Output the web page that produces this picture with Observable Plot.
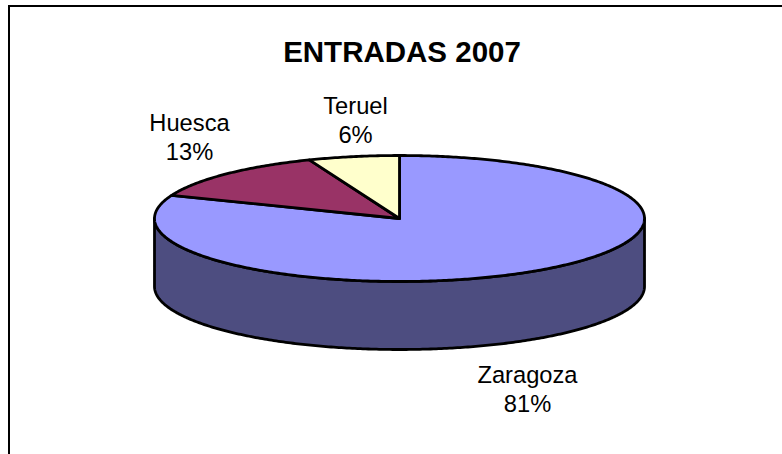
<!DOCTYPE html>
<html>
<head>
<meta charset="utf-8">
<style>html,body{margin:0;padding:0;background:#fff}svg{display:block}</style>
<script src="https://cdn.jsdelivr.net/npm/d3@7"></script>
<script src="https://cdn.jsdelivr.net/npm/@observablehq/plot@0.6"></script>
</head>
<body>
<script>
const categories = ["Zaragoza", "Huesca", "Teruel"];
const shares = [81, 13, 6];
const colors = ["#9999ff", "#993366", "#ffffcc"];
const sideColor = "#4d4d80";
const titleText = "ENTRADAS 2007";

const W = 782, H = 454;
const left = 154, right = 644, top_ = 155, bottom = 281, depth = 68;
const ry = (bottom - top_) / 2;
const font = "'Liberation Sans', Arial, sans-serif";

// unit-ellipse coordinates <-> pixels
const xInv = p => (p - left) / (right - left) * 2 - 1;
const yInv = p => (p - top_) / (bottom - top_) * 2 - 1;

// angle measured clockwise from 12 o'clock; y grows downward
const pt = a => ({x: Math.sin(a), y: -Math.cos(a)});
const total = d3.sum(shares);
let acc = 0;
const slices = categories.map((name, i) => {
  const a0 = acc / total * 2 * Math.PI;
  acc += shares[i];
  const a1 = acc / total * 2 * Math.PI;
  return {name, share: shares[i], color: colors[i], a0, a1};
});

const arcPts = (a0, a1) => {
  const n = Math.max(2, Math.ceil((a1 - a0) * 90));
  return d3.range(n + 1).map(k => pt(a0 + (a1 - a0) * k / n));
};

const slicePolys = slices.flatMap(s => {
  const c = {x: 0, y: 0};
  return [c, ...arcPts(s.a0, s.a1), c].map(p => ({...p, name: s.name, color: s.color}));
});

const dy = depth / ry;
const lower = arcPts(Math.PI / 2, 3 * Math.PI / 2);
const sidePoly = [...lower, ...lower.slice().reverse().map(p => ({x: p.x, y: p.y + dy})), lower[0]];

// label centres, in pixels
const labelAt = {
  Zaragoza: [527, 387.5],
  Huesca: [189, 135.5],
  Teruel: [355, 118.5]
};
const labels = slices.map(s => ({
  x: xInv(labelAt[s.name][0]),
  y: yInv(labelAt[s.name][1]),
  text: `${s.name}\n${s.share}%`
}));

const chart = Plot.plot({
  width: W, height: H,
  marginLeft: 0, marginRight: 0, marginTop: 0, marginBottom: 0,
  x: {domain: [-1, 1], range: [left, right], axis: null},
  y: {domain: [-1, 1], range: [top_, bottom], axis: null},
  style: {background: "#fff", fontFamily: font},
  marks: [
    Plot.ruleY([yInv(5.5)], {x1: xInv(8), x2: xInv(782), stroke: "#000", strokeWidth: 2}),
    Plot.ruleX([xInv(8.5)], {y1: yInv(5), y2: yInv(454), stroke: "#000", strokeWidth: 2}),
    Plot.line(sidePoly, {x: "x", y: "y", fill: sideColor, stroke: "#000", strokeWidth: 2.8, strokeLinejoin: "round", curve: "linear"}),
    Plot.line(slicePolys, {x: "x", y: "y", z: "name", fill: "color", stroke: "#000", strokeWidth: 2.8, strokeLinejoin: "round", curve: "linear"}),
    Plot.text(labels, {x: "x", y: "y", text: "text", fontSize: 23.7, lineHeight: 1.25, fill: "#000", fontFamily: font}),
    Plot.text([titleText], {x: xInv(401.5), y: yInv(52), text: d => d, fontSize: 29.5, fontWeight: "bold", fill: "#000", fontFamily: font})
  ]
});
document.body.appendChild(chart);
</script>
</body>
</html>
